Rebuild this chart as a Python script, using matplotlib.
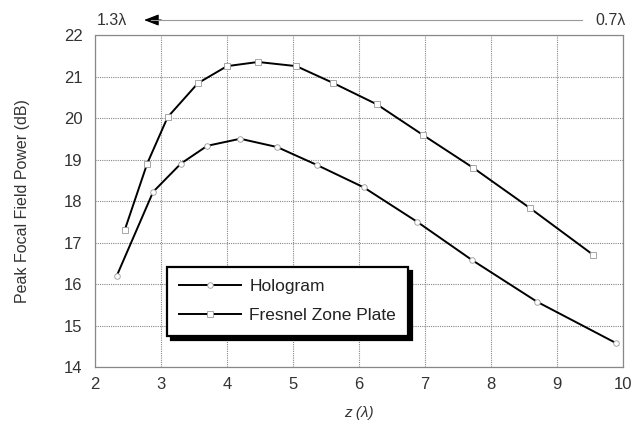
import numpy as np
import matplotlib
matplotlib.use('Agg')
import matplotlib.pyplot as plt

plt.rcParams['font.family'] = ['Liberation Sans', 'DejaVu Sans']

# hologram (circles) and zone plate (squares) peak focal power vs distance
holo_z = [2.33, 2.88, 3.3, 3.7, 4.2, 4.76, 5.36, 6.07, 6.88, 7.71, 8.7, 9.89]
holo_db = [16.2, 18.22, 18.9, 19.33, 19.5, 19.3, 18.87, 18.33, 17.5, 16.58, 15.57, 14.58]
fzp_z = [2.45, 2.79, 3.1, 3.56, 4.0, 4.47, 5.05, 5.6, 6.27, 6.97, 7.73, 8.59, 9.55]
fzp_db = [17.3, 18.9, 20.02, 20.84, 21.25, 21.35, 21.25, 20.85, 20.33, 19.59, 18.8, 17.83, 16.7]

xticks = [2, 3, 4, 5, 6, 7, 8, 9, 10]
yticks = [14, 15, 16, 17, 18, 19, 20, 21, 22]

fig = plt.figure(figsize=(6.31, 4.26), dpi=100)
ax = fig.add_axes([0.1506, 0.1385, 0.8367, 0.7793])

mk = dict(markersize=4, markerfacecolor='white', markeredgecolor='#999999',
          markeredgewidth=0.6, color='black', linewidth=1.4)
ax.plot(holo_z, holo_db, marker='o', label='Hologram', **mk)
ax.plot(fzp_z, fzp_db, marker='s', label='Fresnel Zone Plate', **mk)

ax.set_xlim(2, 10)
ax.set_ylim(14, 22)
ax.set_xticks(xticks)
ax.set_yticks(yticks)
ax.tick_params(length=0, labelsize=12, colors='#333333')
ax.tick_params(axis='y', pad=9)
ax.tick_params(axis='x', pad=7)
ax.grid(True, color='#888888', linestyle=(0, (1, 1)), linewidth=0.8)
for s in ax.spines.values():
    s.set_color('#888888')
    s.set_linewidth(0.9)
    s.set_linestyle((0, (1, 1)))

ax.set_xlabel('z (λ)', fontsize=11, style='italic', color='#333333', labelpad=10)
ax.set_ylabel('Peak Focal Field Power (dB)', fontsize=11.5, color='#333333', labelpad=24)

leg = ax.legend(loc='upper left', bbox_to_anchor=(0.136, 0.301), fontsize=12.5,
                borderaxespad=0, fancybox=False, frameon=True, edgecolor='black',
                framealpha=1, handlelength=3.6, handletextpad=0.45,
                borderpad=0.7, labelspacing=0.8,
                shadow={'color': 'black', 'alpha': 1, 'ox': 3, 'oy': -3})
leg.get_frame().set_linewidth(1.6)
for t in leg.get_texts():
    t.set_color('#222222')

# direction marker across the top
fig.text(0.154, 0.953, '1.3λ', fontsize=11.5, color='#333333', va='center', ha='left')
fig.text(0.991, 0.953, '0.7λ', fontsize=11.5, color='#333333', va='center', ha='right')
fig.add_artist(plt.Line2D([0.24, 0.922], [0.953, 0.953], color='#999999', linewidth=0.8))
ax.annotate('', xy=(0.224, 0.953), xycoords='figure fraction',
            xytext=(0.26, 0.953), textcoords='figure fraction',
            arrowprops=dict(arrowstyle='-|>,head_length=0.9,head_width=0.35',
                            color='black', linewidth=0.8))

fig.savefig('out.png', dpi=100)
